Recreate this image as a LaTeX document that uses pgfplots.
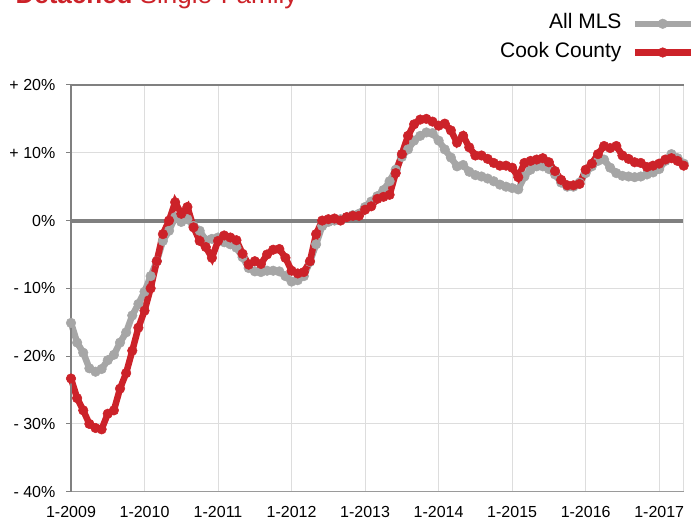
\documentclass[border=0pt]{standalone}
\usepackage{fontspec}
\setmainfont{Liberation Sans}
\usepackage{pgfplots}
\pgfplotsset{compat=1.18}
\usepackage{pgfplotstable}
\definecolor{cookred}{RGB}{204,34,41}
\definecolor{mlsgray}{RGB}{166,166,166}
\definecolor{axisgray}{RGB}{128,128,128}
\definecolor{gridgray}{RGB}{221,221,221}

\pgfplotstableread{
m mls cook
0 -15.1 -23.3
1 -18.0 -26.2
2 -19.5 -28.0
3 -21.8 -30.0
4 -22.3 -30.6
5 -21.9 -30.8
6 -20.6 -28.5
7 -19.8 -28.0
8 -18.0 -24.8
9 -16.5 -22.5
10 -14.0 -19.2
11 -12.3 -15.8
12 -10.5 -13.3
13 -8.2 -10.0
14 -6.0 -6.0
15 -3.0 -2.0
16 -1.5 0.0
17 0.5 2.7
18 -0.2 1.0
19 0.2 2.0
20 -0.8 -1.0
21 -1.5 -3.0
22 -2.9 -3.9
23 -2.7 -5.5
24 -2.5 -3.0
25 -3.2 -2.2
26 -3.5 -2.5
27 -4.0 -2.9
28 -5.4 -4.9
29 -7.0 -6.5
30 -7.5 -6.0
31 -7.6 -6.4
32 -7.4 -5.0
33 -7.4 -4.3
34 -7.5 -4.2
35 -8.2 -5.5
36 -9.0 -7.4
37 -8.8 -7.8
38 -8.2 -7.6
39 -6.1 -6.0
40 -3.5 -2.0
41 -0.8 0.0
42 -0.2 0.2
43 0.0 0.3
44 0.2 0.0
45 0.5 0.5
46 0.8 0.7
47 1.0 0.7
48 2.0 1.6
49 2.8 2.1
50 3.6 3.2
51 4.5 3.5
52 5.8 3.8
53 7.5 7.0
54 9.4 9.8
55 10.5 12.5
56 11.8 14.2
57 12.5 14.9
58 13.0 15.0
59 12.9 14.6
60 11.8 14.0
61 10.5 14.3
62 9.3 13.3
63 8.0 11.5
64 8.2 12.5
65 7.2 10.8
66 6.7 9.6
67 6.5 9.6
68 6.2 9.1
69 5.8 8.5
70 5.3 8.1
71 5.0 8.1
72 4.8 7.8
73 4.6 6.4
74 6.5 8.5
75 7.5 8.8
76 8.0 9.0
77 8.0 9.2
78 7.6 8.6
79 6.8 7.3
80 5.6 6.0
81 5.0 5.2
82 5.0 5.2
83 5.6 5.4
84 7.0 7.5
85 8.0 8.4
86 8.8 9.8
87 9.0 11.0
88 7.8 10.7
89 7.0 11.0
90 6.6 9.6
91 6.5 9.1
92 6.4 8.6
93 6.5 8.5
94 6.8 7.9
95 7.1 8.1
96 7.6 8.4
97 8.8 9.0
98 9.8 9.2
99 9.2 8.8
100 8.4 8.1
}\datatable

\begin{document}
\begin{tikzpicture}
\begin{axis}[
  name=ax,
  scale only axis,
  width=612.7pt, height=406.7pt,
  xmin=0, xmax=100, ymin=-40, ymax=20,
  clip=false,
  axis line style={draw=none},
  xtick={0,12,24,36,48,60,72,84,96},
  xticklabels={1-2009,1-2010,1-2011,1-2012,1-2013,1-2014,1-2015,1-2016,1-2017},
  ytick={-40,-30,-20,-10,0,10,20},
  yticklabels={- 40\%,- 30\%,- 20\%,- 10\%,0\%,+ 10\%,+ 20\%},
  xtick pos=bottom, ytick pos=left,
  grid=major,
  grid style={gridgray, line width=1pt},
  tick align=outside,
  major tick length=4.5pt,
  xtick style={draw=none},
  ytick style={axisgray, line width=1pt},
  tick label style={font=\fontsize{16}{19}\selectfont, inner sep=0pt},
  yticklabel style={anchor=east, xshift=-11pt},
  xticklabel style={anchor=north, yshift=-10pt},
  legend style={at={(1.0168,1.176)}, anchor=north east, draw=none, fill=none,
    inner sep=0pt, outer sep=0pt, row sep=12pt, column sep=10pt,
    nodes={inner sep=0pt, font=\fontsize{21}{25}\selectfont}},
  legend cell align=right,
  legend plot pos=right,
  legend image code/.code={\draw[mark repeat=2, mark phase=2, #1] plot coordinates {(0pt,-2pt) (28pt,-2pt) (56pt,-2pt)};},
]
\draw[axisgray, line width=4pt] (axis cs:0,0) -- (axis cs:100,0);
\addplot[mlsgray, line width=6.5pt, mark=*, mark size=4.8pt, mark options={line width=0.5pt, fill=mlsgray}] table[x=m, y=mls] {\datatable};
\addlegendentry{All MLS}
\addplot[cookred, line width=6.5pt, mark=*, mark size=4.8pt, mark options={line width=0.5pt, fill=cookred}] table[x=m, y=cook] {\datatable};
\addlegendentry{Cook County}
\draw[gridgray, line width=1pt] (rel axis cs:1,0) -- (rel axis cs:1,1);
\draw[axisgray!80, line width=1pt] (rel axis cs:0,0) -- (rel axis cs:1,0);
\draw[axisgray, line width=1.3pt] (rel axis cs:1,1) -- (rel axis cs:0,1) -- (rel axis cs:0,0);
\end{axis}
\node[anchor=base west, inner sep=0pt, text=cookred, font=\fontsize{26}{30}\selectfont]
  at ([xshift=-55.6pt, yshift=81.5pt]ax.north west) {\textbf{Detached} Single-Family};
\pgfresetboundingbox
\path ([xshift=-71pt,yshift=-28.3pt]ax.south west) rectangle ([xshift=8.3pt,yshift=85pt]ax.north east);
\end{tikzpicture}
\end{document}
